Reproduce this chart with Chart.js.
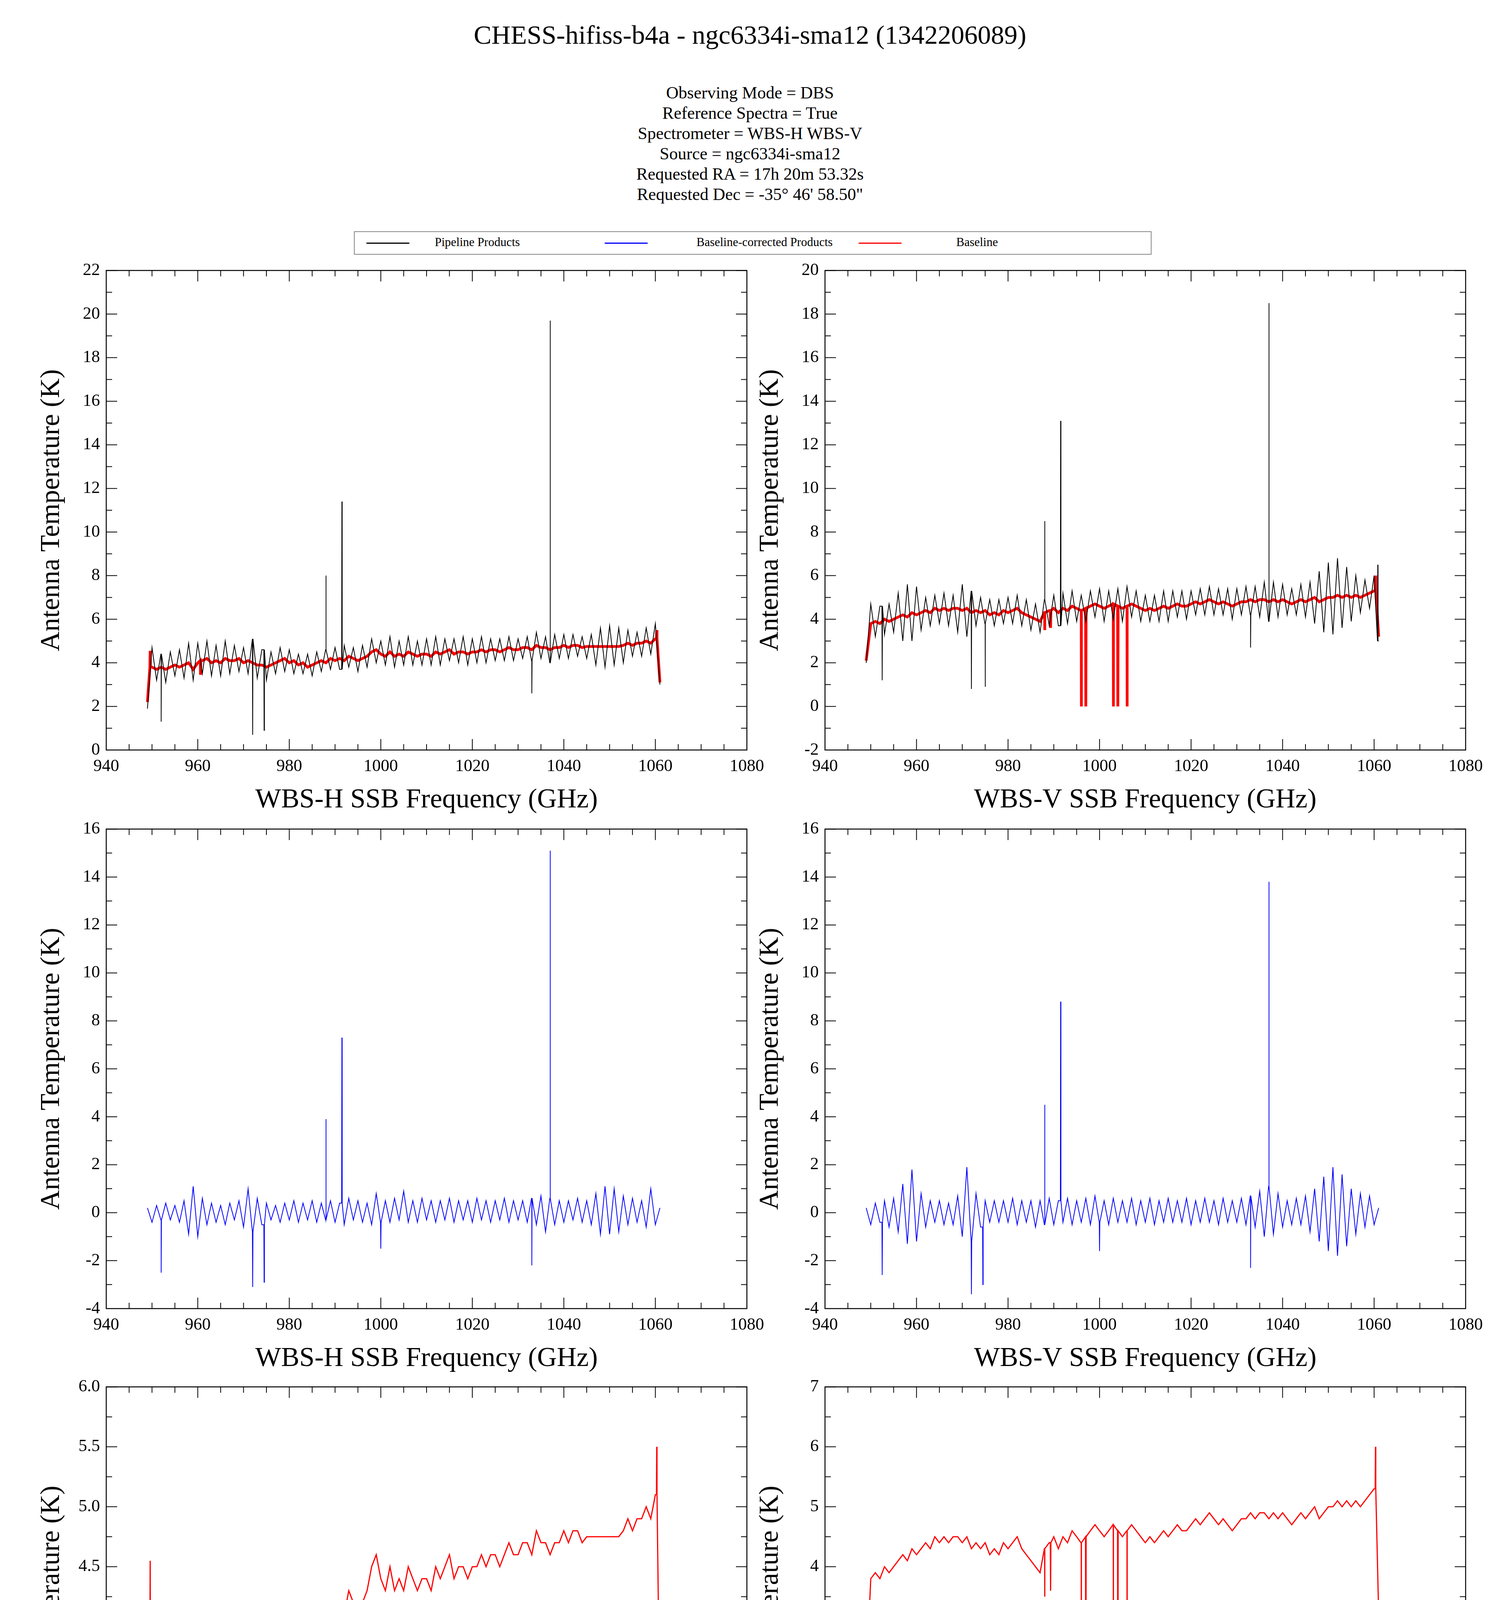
<!DOCTYPE html>
<html><head><meta charset="utf-8">
<script src="https://cdn.jsdelivr.net/npm/chart.js@4.4.1/dist/chart.umd.min.js"></script>
<style>
body{margin:0;background:#fff;width:3840px;height:5002px;position:relative;font-family:"Liberation Serif",serif;}
.t{position:absolute;left:0;width:3840px;text-align:center;color:#000;}
canvas{position:absolute;}
#leg{position:absolute;left:906px;top:592px;width:2038px;height:56px;border:2px solid #888;font-size:31px;}
#leg span{position:absolute;top:8px;}
#leg i{position:absolute;top:27px;height:3px;width:110px;}
</style></head><body>
<div class="t" style="top:50px;font-size:68px">CHESS-hifiss-b4a - ngc6334i-sma12 (1342206089)</div>
<div class="t" style="top:212px;font-size:44px;line-height:52px">Observing Mode = DBS<br>Reference Spectra = True<br>Spectrometer = WBS-H WBS-V<br>Source = ngc6334i-sma12<br>Requested RA = 17h 20m 53.32s<br>Requested Dec = -35&deg; 46' 58.50"</div>
<div id="leg">
<i style="left:30px;background:#000"></i><span style="left:205px">Pipeline Products</span>
<i style="left:640px;background:#00f"></i><span style="left:875px">Baseline-corrected Products</span>
<i style="left:1290px;background:#f00"></i><span style="left:1540px">Baseline</span>
</div>
<canvas id="c0"></canvas><canvas id="c1"></canvas><canvas id="c2"></canvas>
<canvas id="c3"></canvas><canvas id="c4"></canvas><canvas id="c5"></canvas>
<script>
// frequency grid (GHz)
const freqs = [949,950,951,952,953,954,955,956,957,958,959,960,961,962,963,964,965,966,967,968,
969,970,971,972,973,974,975,976,977,978,979,980,981,982,983,984,985,986,987,988,
989,990,991,992,993,994,995,996,997,998,999,1000,1001,1002,1003,1004,1005,1006,1007,1008,
1009,1010,1011,1012,1013,1014,1015,1016,1017,1018,1019,1020,1021,1022,1023,1024,1025,1026,1027,1028,
1029,1030,1031,1032,1033,1034,1035,1036,1037,1038,1039,1040,1041,1042,1043,1044,1045,1046,1047,1048,
1049,1050,1051,1052,1053,1054,1055,1056,1057,1058,1059,1060,1061];

const baseH = [2.2,3.8,3.7,3.8,3.7,3.8,3.9,3.8,3.9,4.0, 3.7,4.0,4.1,4.2,4.0,4.1,4.0,4.2,4.1,4.1,
4.2,4.0,4.1,4.0,3.9,3.9,3.8,3.9,4.0,4.1, 4.2,4.0,4.1,3.9,4.0,3.8,3.9,4.0,4.1,4.0,
4.2,4.1,4.2,4.1,4.3,4.2,4.1,4.2,4.3,4.5, 4.6,4.4,4.3,4.5,4.3,4.4,4.3,4.5,4.4,4.3,
4.4,4.4,4.3,4.5,4.4,4.5,4.6,4.4,4.5,4.5, 4.4,4.5,4.5,4.6,4.5,4.6,4.6,4.5,4.6,4.7,
4.6,4.6,4.7,4.7,4.6,4.8,4.7,4.7,4.6,4.7, 4.7,4.8,4.7,4.8,4.8,4.7,4.75,4.75,4.75,4.75,
4.75,4.75,4.75,4.75,4.8,4.9,4.8,4.9,4.9,5.0, 4.9,5.1,3.1];

const pipeH = [1.9,4.7,3.2,4.4,3.1,4.5,3.4,4.6,3.3,4.9, 3.2,4.9,3.5,5.0,3.4,4.8,3.4,5.0,3.5,4.8,
3.6,4.7,3.5,5.1,3.3,4.6,3.2,4.5,3.5,4.7, 3.6,4.6,3.5,4.4,3.5,4.4,3.4,4.5,3.6,4.6,
3.7,4.7,3.7,4.8,3.8,4.7,3.6,4.8,3.8,5.1, 4.0,5.0,3.9,5.2,3.8,5.0,3.9,5.2,3.9,5.0,
3.9,5.1,3.9,5.2,3.9,5.1,4.1,5.1,4.0,5.2, 3.9,5.1,4.0,5.2,4.0,5.1,4.1,5.1,4.1,5.2,
4.1,5.1,4.2,5.2,4.1,5.4,4.2,5.2,4.0,5.3, 4.2,5.3,4.2,5.3,4.3,5.2,4.2,5.3,3.9,5.6,
3.8,5.7,3.9,5.6,4.0,5.5,4.3,5.4,4.3,5.6, 4.4,5.8,3.0];

const corrH = [0.2,-0.4,0.3,-0.3,0.4,-0.3,0.3,-0.4,0.5,-0.9, 1.1,-1.0,0.6,-0.5,0.4,-0.4,0.3,-0.5,0.4,-0.3,
0.5,-0.6,1.0,-0.8,0.6,-0.5,0.4,-0.3,0.3,-0.4, 0.4,-0.3,0.5,-0.4,0.4,-0.3,0.5,-0.4,0.4,-0.3,
0.5,-0.4,0.4,-0.5,0.6,-0.3,0.5,-0.4,0.4,-0.5, 0.8,-0.4,0.5,-0.4,0.6,-0.3,0.9,-0.4,0.5,-0.4,
0.6,-0.3,0.5,-0.4,0.5,-0.3,0.6,-0.4,0.5,-0.3, 0.5,-0.4,0.6,-0.3,0.5,-0.4,0.5,-0.3,0.6,-0.4,
0.5,-0.3,0.5,-0.4,0.6,-0.5,0.7,-0.8,0.6,-0.5, 0.5,-0.4,0.5,-0.3,0.6,-0.4,0.5,-0.5,0.8,-0.9,
1.1,-0.9,1.0,-0.8,0.7,-0.5,0.6,-0.4,0.5,-0.6, 1.0,-0.5,0.2];

const baseV = [2.1,3.8,3.9,3.8,4.0,3.9,4.0,4.1,4.2,4.1, 4.3,4.2,4.3,4.4,4.3,4.5,4.4,4.5,4.4,4.5,
4.5,4.4,4.5,4.3,4.4,4.3,4.4,4.2,4.3,4.2, 4.4,4.3,4.4,4.5,4.3,4.2,4.1,4.0,3.9,4.3,
4.4,4.5,4.3,4.5,4.4,4.6,4.5,4.4,4.5,4.6, 4.7,4.6,4.5,4.6,4.7,4.6,4.5,4.6,4.7,4.6,
4.5,4.4,4.5,4.4,4.5,4.6,4.5,4.6,4.7,4.6, 4.6,4.7,4.8,4.7,4.8,4.9,4.8,4.7,4.8,4.7,
4.6,4.7,4.8,4.8,4.9,4.8,4.9,4.9,4.8,4.9, 4.8,4.9,4.8,4.7,4.8,4.9,4.8,4.9,5.0,4.8,
4.9,5.0,5.0,5.1,5.0,5.1,5.0,5.1,5.0,5.1, 5.2,5.3,3.2];

const pipeV = [2.0,4.7,3.2,4.6,3.3,4.7,3.4,5.2,3.0,5.6, 3.0,5.5,3.5,5.0,3.7,5.1,3.8,5.2,3.7,5.1,
3.4,5.6,3.2,5.3,3.7,5.0,3.8,4.9,3.7,4.9, 3.8,5.0,3.8,5.1,3.7,4.9,3.5,4.7,3.4,4.9,
3.7,5.1,3.7,5.2,3.8,5.3,3.9,5.1,3.9,5.3, 4.1,5.4,3.9,5.3,4.0,5.4,3.9,5.5,4.1,5.3,
3.9,5.1,3.9,5.1,3.9,5.3,3.9,5.3,4.1,5.3, 4.0,5.3,4.2,5.4,4.2,5.5,4.2,5.4,4.2,5.4,
4.0,5.4,4.2,5.5,4.2,5.5,4.1,5.7,3.9,5.7, 4.1,5.6,4.2,5.4,4.2,5.6,4.1,5.7,3.8,6.2,
3.4,6.6,3.3,6.8,3.6,6.4,3.9,6.0,4.3,5.8, 4.5,6.0,3.0];

const corrV = [0.2,-0.5,0.4,-0.4,0.5,-0.6,0.6,-0.8,1.2,-1.3, 1.8,-1.2,0.8,-0.6,0.5,-0.4,0.5,-0.5,0.4,-0.5,
0.7,-1.0,1.9,-1.2,0.8,-0.6,0.5,-0.4,0.5,-0.4, 0.5,-0.4,0.6,-0.5,0.5,-0.4,0.5,-0.6,0.5,-0.5,
0.6,-0.5,0.5,-0.4,0.6,-0.5,0.5,-0.4,0.6,-0.5, 0.7,-0.4,0.5,-0.5,0.6,-0.4,0.5,-0.4,0.6,-0.5,
0.5,-0.4,0.6,-0.5,0.5,-0.4,0.6,-0.4,0.5,-0.4, 0.6,-0.5,0.5,-0.4,0.6,-0.4,0.5,-0.5,0.6,-0.4,
0.5,-0.4,0.6,-0.5,0.7,-0.6,0.9,-1.0,1.1,-0.9, 0.8,-0.6,0.5,-0.5,0.6,-0.5,0.7,-0.8,1.0,-1.2,
1.5,-1.6,1.9,-1.8,1.6,-1.4,1.0,-0.9,0.8,-0.6, 0.7,-0.5,0.2];

// narrow lines / dips: [frequency, peak value]
const spikesPipeH = [[952,1.3],[972,0.7],[974.5,0.9],[988,8.0],[991.5,11.4],[1033,2.6],[1037,19.7]];
const spikesCorrH = [[952,-2.5],[972,-3.1],[974.5,-2.9],[988,3.9],[991.5,7.3],[1000,-1.5],[1033,-2.2],[1037,15.1]];
const spikesBaseH = [[949.6,4.55],[960.6,3.45],[1060.3,5.5]];
const spikesPipeV = [[952.5,1.2],[972,0.8],[975,0.9],[988,8.5],[991.5,13.1],[1033,2.7],[1037,18.5],[1060.8,6.5]];
const spikesCorrV = [[952.5,-2.6],[972,-3.4],[974.5,-3.0],[988,4.5],[991.5,8.8],[1000,-1.6],[1033,-2.3],[1037,13.8]];
const spikesBaseV = [[988,3.5],[989.3,3.6],[996,0],[997,0],[1003,0],[1004,0],[1006,0],[1060.3,6.0]];

const xTicks = [940,960,980,1000,1020,1040,1060,1080];

function series(vals, spikes) {
    const pts = freqs.map((f, i) => ({x: f, y: vals[i]}));
    spikes.forEach(([sx, sy]) => {
        let k = 0;
        for (let i = 1; i < freqs.length; i++) if (Math.abs(freqs[i] - sx) < Math.abs(freqs[k] - sx)) k = i;
        pts.push({x: sx - 0.06, y: vals[k]}, {x: sx, y: sy}, {x: sx + 0.06, y: vals[k]});
    });
    return pts.sort((a, b) => a.x - b.x);
}

// box with inward ticks on all four sides
const frame = {
    id: 'frame',
    afterDraw(chart, args, o) {
        const c = chart.ctx, a = chart.chartArea, xs = chart.scales.x, ys = chart.scales.y;
        c.save();
        c.strokeStyle = '#000'; c.lineWidth = 2.5;
        c.strokeRect(a.left, a.top, a.right - a.left, a.bottom - a.top);
        c.lineWidth = 2;
        for (let v = xs.min; v <= xs.max + 1e-6; v += 5) {
            const p = xs.getPixelForValue(v), L = (Math.round(v) % 20 === 0) ? 28 : 15;
            c.beginPath(); c.moveTo(p, a.bottom); c.lineTo(p, a.bottom - L);
            c.moveTo(p, a.top); c.lineTo(p, a.top + L); c.stroke();
        }
        const st = o.step / 2;
        for (let i = 0; ys.min + i * st <= ys.max + 1e-6; i++) {
            const p = ys.getPixelForValue(ys.min + i * st), L = i % 2 === 0 ? 28 : 15;
            c.beginPath(); c.moveTo(a.left, p); c.lineTo(a.left + L, p);
            c.moveTo(a.right, p); c.lineTo(a.right - L, p); c.stroke();
        }
        c.restore();
    }
};

const font = {family: '"Liberation Serif", serif'};
function makeChart(id, left, top, w, h, xTitle, y, sets) {
    const cv = document.getElementById(id);
    const padL = 185, padT = 30, padR = 60, padB = 175;
    cv.style.left = (left - padL) + 'px'; cv.style.top = (top - padT) + 'px';
    cv.width = w + padL + padR; cv.height = h + padT + padB;
    cv.style.width = cv.width + 'px'; cv.style.height = cv.height + 'px';
    new Chart(cv, {
        type: 'scatter',
        data: {datasets: sets.map(s => ({data: s.data, borderColor: s.color, borderWidth: s.width,
            showLine: true, pointRadius: 0, tension: 0}))},
        options: {
            responsive: false, animation: false, devicePixelRatio: 1,
            layout: {padding: {top: padT, right: padR, left: 0, bottom: 0}},
            plugins: {legend: {display: false}, tooltip: {enabled: false}, frame: {step: y.step}},
            scales: {
                x: {type: 'linear', min: 940, max: 1080,
                    afterBuildTicks: s => { s.ticks = xTicks.map(v => ({value: v})); },
                    afterFit: s => { s.height = padB; },
                    grid: {display: false}, border: {display: false},
                    ticks: {color: '#000', font: {...font, size: 44}, padding: 8, maxRotation: 0,
                        callback: v => String(v)},
                    title: {display: true, text: xTitle, color: '#000', font: {...font, size: 70}, padding: {top: 0}}},
                y: {min: y.min, max: y.max,
                    ticks: {stepSize: y.step, color: '#000', font: {...font, size: 44}, padding: 8,
                        callback: v => y.dec ? v.toFixed(y.dec) : String(v)},
                    afterFit: s => { s.width = padL; },
                    grid: {display: false}, border: {display: false},
                    title: {display: true, text: 'Antenna Temperature (K)', color: '#000', font: {...font, size: 70}, padding: {bottom: 0}}}
            }
        },
        plugins: [frame]
    });
}

const L = 272, R = 2112, W = 1640, H = 1232;
const rowTop = [688, 2118, 3546];
const hT = 'WBS-H SSB Frequency (GHz)', vT = 'WBS-V SSB Frequency (GHz)';

makeChart('c0', L, rowTop[0], W, H, hT, {min: 0, max: 22, step: 2}, [
    {data: series(pipeH, spikesPipeH), color: '#000', width: 2},
    {data: series(baseH, spikesBaseH), color: '#f00', width: 7}]);
makeChart('c1', R, rowTop[0], W, H, vT, {min: -2, max: 20, step: 2}, [
    {data: series(pipeV, spikesPipeV), color: '#000', width: 2},
    {data: series(baseV, spikesBaseV), color: '#f00', width: 7}]);
makeChart('c2', L, rowTop[1], W, H, hT, {min: -4, max: 16, step: 2}, [
    {data: series(corrH, spikesCorrH), color: '#00f', width: 2}]);
makeChart('c3', R, rowTop[1], W, H, vT, {min: -4, max: 16, step: 2}, [
    {data: series(corrV, spikesCorrV), color: '#00f', width: 2}]);
makeChart('c4', L, rowTop[2], W, H, hT, {min: 2, max: 6, step: 0.5, dec: 1}, [
    {data: series(baseH, spikesBaseH), color: '#f00', width: 3}]);
makeChart('c5', R, rowTop[2], W, H, vT, {min: -1, max: 7, step: 1}, [
    {data: series(baseV, spikesBaseV), color: '#f00', width: 3}]);
</script>
</body></html>
